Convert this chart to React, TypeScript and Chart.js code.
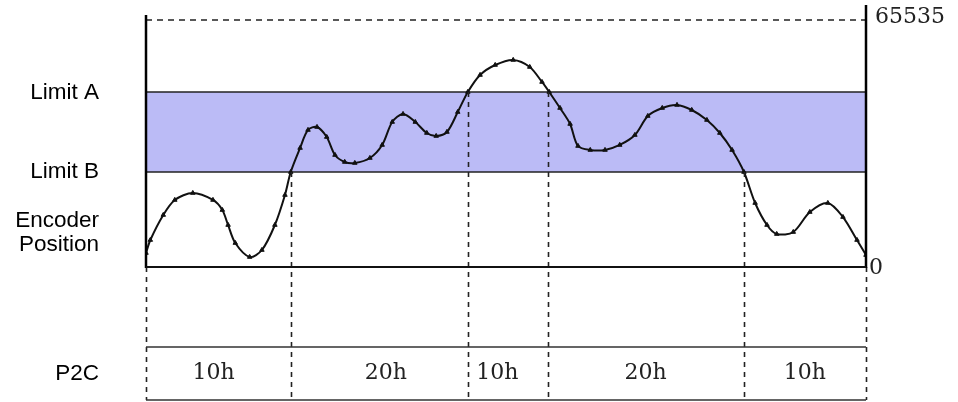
import React, { useEffect, useRef } from "react";
import { Chart, registerables } from "chart.js";

Chart.register(...registerables);

// ---- data ----
const yMax = 69500;
const fullScale = 65535;
const limitA = 46430;
const limitB = 25200;
const leftAxisTop = 66850;

const encoderX = [
  0, 0.6, 2.4, 4.0, 6.5, 9.3, 10.6, 11.4, 12.4, 14.4, 16.1, 17.9, 19.3, 20.1,
  21.4, 22.5, 23.75, 25.1, 26.25, 27.6, 29.0, 31.1, 32.8, 34.2, 35.7, 37.4,
  39.0, 40.3, 41.8, 43.3, 44.7, 46.4, 48.5, 51.0, 53.3, 55.0, 56.0, 57.5, 58.9,
  60.0, 61.7, 63.75, 65.8, 67.9, 69.7, 71.7, 73.75, 75.8, 77.9, 79.7, 81.4,
  83.05, 84.6, 86.25, 87.6, 89.9, 92.2, 94.7, 96.8, 98.75, 100,
];
const encoderY = [
  3715, 7160, 13800, 17780, 19630, 17780, 15120, 11140, 6370, 2650, 4510,
  11140, 19100, 25200, 31570, 36350, 37140, 34490, 29710, 27860, 27590, 28920,
  32370, 38470, 40590, 38470, 35550, 34750, 35820, 41120, 46430, 50940, 53590,
  54920, 53060, 49080, 46430, 42180, 37940, 32100, 31040, 31040, 32370, 35020,
  40060, 42180, 42980, 41650, 39000, 35550, 31040, 25200, 16980, 11140, 8750,
  9280, 14590, 16980, 13260, 7160, 3180,
];

const boundaryX = [0, 20.1, 44.7, 55.9, 83.05, 100];
const boundaryTopY = [0, limitB, limitA, limitA, limitB, 0];

const p2cLabels = ["10h", "20h", "10h", "20h", "10h"];
const p2cLabelX = [9.4, 33.3, 48.8, 69.4, 91.5];

const sideLabels = ["Limit A", "Limit B", "Encoder", "Position", "P2C"];

export default function App() {
  const ref = useRef<HTMLCanvasElement | null>(null);

  useEffect(() => {
    if (!ref.current) return;

    const overlay = {
      id: "overlay",
      afterDatasetsDraw(chart: any) {
        const { ctx, chartArea: a, scales } = chart;
        const x = scales.x;
        const y = scales.y;
        const y0 = y.getPixelForValue(0);
        const xl = x.getPixelForValue(0);
        const xr = x.getPixelForValue(100);
        const rowTop = a.bottom + 80;
        const rowBottom = a.bottom + 133;
        ctx.save();

        // vertical dashed boundaries
        ctx.strokeStyle = "#222";
        ctx.lineWidth = 1.6;
        ctx.setLineDash([5, 5]);
        boundaryX.forEach((bx, i) => {
          const px = Math.round(x.getPixelForValue(bx)) + 0.5;
          ctx.beginPath();
          ctx.moveTo(px, y.getPixelForValue(boundaryTopY[i]));
          ctx.lineTo(px, rowBottom);
          ctx.stroke();
        });
        ctx.setLineDash([]);

        // axes
        ctx.strokeStyle = "#000";
        ctx.lineWidth = 2.5;
        ctx.beginPath();
        ctx.moveTo(xl, y.getPixelForValue(leftAxisTop));
        ctx.lineTo(xl, y0 + 1);
        ctx.moveTo(xr, y.getPixelForValue(yMax));
        ctx.lineTo(xr, y0 + 1);
        ctx.stroke();
        ctx.strokeStyle = "#111";
        ctx.lineWidth = 2;
        ctx.beginPath();
        ctx.moveTo(xl, y0);
        ctx.lineTo(xr, y0);
        ctx.stroke();

        // P2C rows
        ctx.strokeStyle = "#333";
        ctx.lineWidth = 1.5;
        ctx.beginPath();
        ctx.moveTo(xl, rowTop);
        ctx.lineTo(xr, rowTop);
        ctx.moveTo(xl, rowBottom);
        ctx.lineTo(xr, rowBottom);
        ctx.stroke();

        // serif texts
        ctx.fillStyle = "#222";
        ctx.font = '22px "DejaVu Serif"';
        ctx.textBaseline = "middle";
        ctx.textAlign = "center";
        p2cLabels.forEach((t, i) => {
          ctx.fillText(t, x.getPixelForValue(p2cLabelX[i]), (rowTop + rowBottom) / 2);
        });
        ctx.textAlign = "left";
        ctx.fillText(String(fullScale), xr + 9, y.getPixelForValue(fullScale) - 3);
        ctx.fillText("0", xr + 3, y0 + 1);

        // side labels
        ctx.fillStyle = "#000";
        ctx.font = '22.5px "Liberation Sans", Arial';
        ctx.textAlign = "right";
        const lx = 99;
        ctx.fillText(sideLabels[0], lx, y.getPixelForValue(limitA) + 1);
        ctx.fillText(sideLabels[1], lx, y.getPixelForValue(limitB));
        ctx.fillText(sideLabels[2], lx, y0 - 46);
        ctx.fillText(sideLabels[3], lx, y0 - 22);
        ctx.fillText(sideLabels[4], lx, (rowTop + rowBottom) / 2);
        ctx.restore();
      },
    };

    const chart = new Chart(ref.current, {
      type: "line",
      data: {
        datasets: [
          {
            label: "Encoder Position",
            data: encoderX.map((v, i) => ({ x: v, y: encoderY[i] })),
            borderColor: "#111",
            backgroundColor: "#111",
            borderWidth: 2,
            pointStyle: "triangle",
            pointRadius: 2.6,
            pointBorderWidth: 1,
            pointBorderColor: "#111",
            pointBackgroundColor: "#111",
            tension: 0.3,
            order: 0,
            fill: false,
          },
          {
            label: "Limit A",
            data: [
              { x: 0, y: limitA },
              { x: 100, y: limitA },
            ],
            borderColor: "#222",
            borderWidth: 1.5,
            pointRadius: 0,
            order: 1,
            fill: false,
          },
          {
            label: "Limit B",
            data: [
              { x: 0, y: limitB },
              { x: 100, y: limitB },
            ],
            borderColor: "#222",
            borderWidth: 1.5,
            pointRadius: 0,
            order: 1,
            fill: "-1",
            backgroundColor: "#bbbbf6",
          },
          {
            label: "65535",
            data: [
              { x: 0, y: fullScale },
              { x: 100, y: fullScale },
            ],
            borderColor: "#222",
            borderWidth: 1.5,
            borderDash: [6, 5],
            pointRadius: 0,
            order: 1,
            fill: false,
          },
        ],
      },
      options: {
        responsive: false,
        animation: false,
        layout: { padding: { left: 146, right: 92, top: 5, bottom: 135 } },
        scales: {
          x: { type: "linear", min: 0, max: 100, display: false },
          y: { type: "linear", min: 0, max: yMax, display: false },
        },
        plugins: {
          legend: { display: false },
          tooltip: { enabled: false },
          filler: { drawTime: "beforeDatasetsDraw" },
        },
      } as any,
      plugins: [overlay],
    });
    return () => chart.destroy();
  }, []);

  return (
    <div style={{ position: "absolute", left: 0, top: 0, width: 958, height: 402, background: "#fff" }}>
      <canvas ref={ref} width={958} height={402} style={{ display: "block" }} />
    </div>
  );
}
